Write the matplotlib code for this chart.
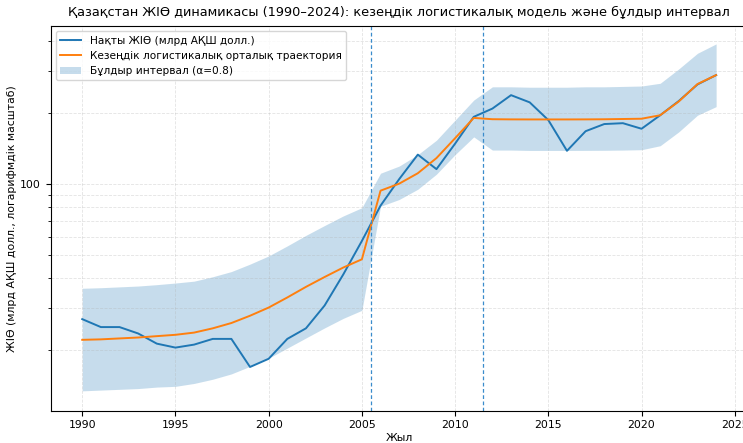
import matplotlib
matplotlib.use("Agg")
import matplotlib.pyplot as plt
from matplotlib.ticker import FixedLocator, FixedFormatter, NullFormatter, LogLocator

years = list(range(1990, 2025))

# actual GDP, bn USD
gdp = [26.9, 24.9, 24.9, 23.4, 21.2, 20.4, 21.0, 22.2, 22.2, 16.9,
       18.3, 22.2, 24.6, 30.7, 41.5, 57.5, 81.0, 104.8, 133.0, 115.5,
       148.0, 192.0, 208.0, 237.0, 221.0, 186.0, 138.0, 167.0, 179.0, 180.5,
       171.0, 195.0, 224.0, 263.0, 288.0]

# piecewise logistic centre trajectory
model = [22.0, 22.1, 22.3, 22.5, 22.8, 23.1, 23.6, 24.6, 25.9, 27.8,
         30.1, 33.2, 36.8, 40.5, 44.4, 48.1, 93.7, 100.3, 111.0, 128.6,
         156.0, 190.0, 187.6, 187.3, 187.2, 187.2, 187.2, 187.3, 187.5, 188.0,
         188.5, 195.0, 223.0, 264.0, 288.0]

# fuzzy interval bounds
band_low = [13.4, 13.5, 13.6, 13.7, 13.9, 14.0, 14.4, 15.0, 15.8, 17.0,
            18.4, 20.3, 22.4, 24.7, 27.1, 29.3, 80.5, 86.0, 95.0, 110.0,
            133.0, 158.0, 139.0, 139.0, 138.5, 138.5, 138.5, 138.6, 138.7, 139.0,
            139.5, 145.0, 166.0, 195.0, 212.0]
band_high = [36.3, 36.5, 36.8, 37.1, 37.6, 38.2, 38.9, 40.6, 42.7, 45.9,
             49.7, 54.8, 60.7, 66.8, 73.3, 79.4, 111.0, 119.0, 133.0, 153.0,
             186.0, 226.0, 257.0, 257.0, 256.0, 256.0, 256.0, 257.0, 257.0, 258.0,
             259.0, 266.0, 306.0, 356.0, 390.0]

breaks = [2005.5, 2011.5]

plt.rcParams['font.family'] = ['DejaVu Sans']
plt.rcParams['font.size'] = 7.8

fig = plt.figure(figsize=(7.43, 4.43), dpi=100)
ax = fig.add_axes([0.068, 0.0729, 0.9385, 0.8684])

ax.fill_between(years, band_low, band_high, color='#1f77b4', alpha=0.25,
                linewidth=0, label='Бұлдыр интервал (α=0.8)')
ax.plot(years, gdp, color='#1f77b4', lw=1.4, label='Нақты ЖІӨ (млрд АҚШ долл.)')
ax.plot(years, model, color='#ff7f0e', lw=1.4, label='Кезеңдік логистикалық орталық траектория')
for b in breaks:
    ax.axvline(b, color='#3a8ccc', ls=(0, (3, 2)), lw=0.9)

ax.set_yscale('log')
ax.set_xlim(1988.3, 2025.7)
ax.set_ylim(11.05, 464)
ax.yaxis.set_major_locator(FixedLocator([100]))
ax.yaxis.set_major_formatter(FixedFormatter(['100']))
ax.yaxis.set_minor_locator(LogLocator(base=10, subs=range(2, 10)))
ax.yaxis.set_minor_formatter(NullFormatter())
ax.set_xticks(range(1990, 2026, 5))

ax.grid(True, which='both', ls='--', lw=0.6, alpha=0.35)

ax.set_title('Қазақстан ЖІӨ динамикасы (1990–2024): кезеңдік логистикалық модель және бұлдыр интервал',
             fontsize=9.3, pad=7)
ax.set_xlabel('Жыл', labelpad=2)
ax.set_ylabel('ЖІӨ (млрд АҚШ долл., логарифмдік масштаб)', labelpad=2)

handles, labels = ax.get_legend_handles_labels()
order = [1, 2, 0]
ax.legend([handles[i] for i in order], [labels[i] for i in order], loc='upper left', fontsize=7.6)

fig.savefig('out.png', dpi=100)
